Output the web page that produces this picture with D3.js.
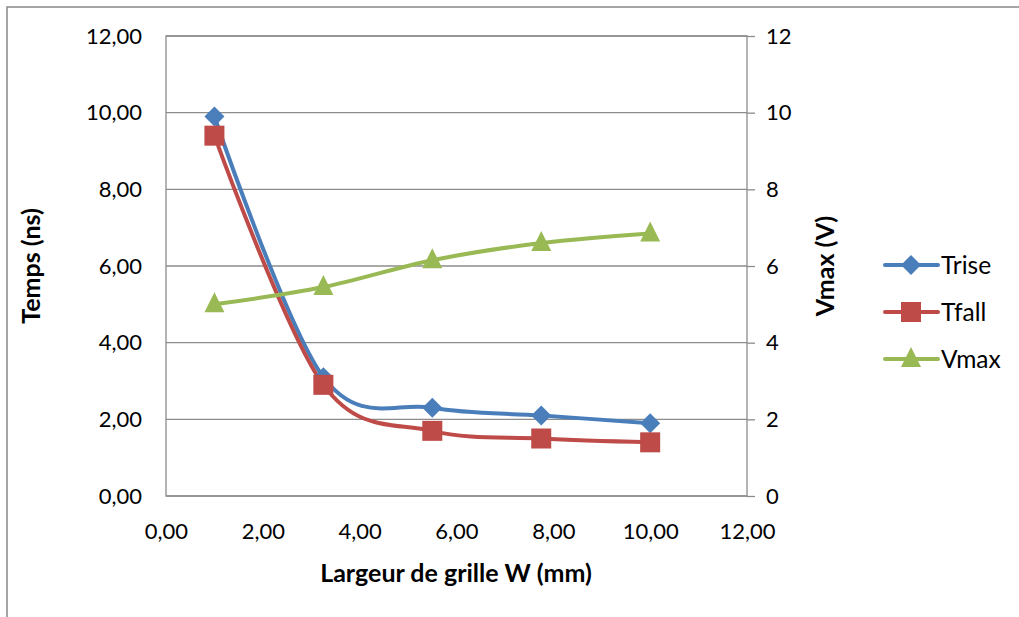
<!DOCTYPE html>
<html><head><meta charset="utf-8">
<script src="https://cdn.jsdelivr.net/npm/d3@7"></script>
<style>body{margin:0;background:#fff}svg{display:block}text{font-family:Lato,"Open Sans",sans-serif}</style>
</head><body>
<svg id="c" width="1019" height="617"></svg>
<script>
const widths = [1.0, 3.25, 5.5, 7.75, 10.0];
const trise = [9.9, 3.1, 2.3, 2.1, 1.9];
const tfall = [9.4, 2.9, 1.7, 1.5, 1.4];
const vmax = [5.0, 5.45, 6.15, 6.6, 6.85];
const xTicks = [0, 2, 4, 6, 8, 10, 12];
const yLeftTicks = [0, 2, 4, 6, 8, 10, 12];
const yRightTicks = [0, 2, 4, 6, 8, 10, 12];
const seriesNames = ["Trise", "Tfall", "Vmax"];

const svg = d3.select("#c");
const L = 166, R = 747, T = 36, B = 496;
const fmt = d => d.toFixed(2).replace(".", ",");
const x = d3.scaleLinear().domain([0, 12]).range([L, R]);
const yL = d3.scaleLinear().domain([0, 12]).range([B, T]);
const yR = d3.scaleLinear().domain([0, 12]).range([B, T]);
const grid = "#8c8c8c";
const TICK_FS = 22, TITLE_FS = 25, LEG_FS = 24.5;

// outer frame
svg.append("rect").attr("x", 7).attr("y", 7).attr("width", 1030).attr("height", 640)
  .attr("fill", "none").attr("stroke", "#888").attr("stroke-width", 1.5);

// gridlines
svg.append("g").selectAll("line").data(yLeftTicks).join("line")
  .attr("x1", L).attr("x2", R).attr("y1", d => yL(d)).attr("y2", d => yL(d))
  .attr("stroke", grid).attr("stroke-width", 1.3);
// plot box
svg.append("rect").attr("x", L).attr("y", T).attr("width", R - L).attr("height", B - T)
  .attr("fill", "none").attr("stroke", grid).attr("stroke-width", 1.3);

// left axis
const gl = svg.append("g").attr("transform", `translate(${L},0)`)
  .call(d3.axisLeft(yL).tickValues(yLeftTicks).tickFormat(fmt).tickSize(0).tickPadding(24));
gl.select(".domain").remove();
gl.selectAll("text").attr("font-size", TICK_FS).attr("fill", "#000").attr("font-family", "Lato");

// right axis
const gr = svg.append("g").attr("transform", `translate(${R},0)`)
  .call(d3.axisRight(yR).tickValues(yRightTicks).tickFormat(d3.format("d")).tickSize(8).tickPadding(11));
gr.select(".domain").remove();
gr.selectAll("line").attr("stroke", grid).attr("stroke-width", 1.3);
gr.selectAll("text").attr("font-size", TICK_FS).attr("fill", "#000").attr("font-family", "Lato");

// bottom axis
const gb = svg.append("g").attr("transform", `translate(0,${B})`)
  .call(d3.axisBottom(x).tickValues(xTicks).tickFormat(fmt).tickSize(0).tickPadding(27));
gb.select(".domain").remove();
gb.selectAll("text").attr("font-size", TICK_FS).attr("fill", "#000").attr("font-family", "Lato");

// titles
svg.append("text").attr("x", 456).attr("y", 582).attr("text-anchor", "middle")
  .attr("font-size", TITLE_FS).attr("font-weight", "bold").text("Largeur de grille W (mm)");
svg.append("text").attr("transform", `translate(40,${(T + B) / 2}) rotate(-90)`)
  .attr("text-anchor", "middle").attr("font-size", TITLE_FS).attr("font-weight", "bold").text("Temps (ns)");
svg.append("text").attr("transform", `translate(834,${(T + B) / 2}) rotate(-90)`)
  .attr("text-anchor", "middle").attr("font-size", TITLE_FS).attr("font-weight", "bold").text("Vmax (V)");

const colors = ["#4a7ebb", "#be4b48", "#98b954"];
function marker(g, type, cx, cy, color) {
  if (type === 0) {
    g.append("path").attr("d", `M${cx},${cy - 10}L${cx + 10},${cy}L${cx},${cy + 10}L${cx - 10},${cy}Z`).attr("fill", color);
  } else if (type === 1) {
    g.append("rect").attr("x", cx - 10).attr("y", cy - 10).attr("width", 20).attr("height", 20).attr("fill", color);
  } else {
    g.append("path").attr("d", `M${cx},${cy - 12}L${cx + 10},${cy + 8}L${cx - 10},${cy + 8}Z`).attr("fill", color);
  }
}

const data = [
  {vals: trise, y: yL},
  {vals: tfall, y: yL},
  {vals: vmax, y: yR}
];
const line = (ys) => d3.line().x((d, i) => x(widths[i])).y(d => ys(d)).curve(d3.curveCardinal.tension(0));

data.forEach((s, k) => {
  svg.append("path").datum(s.vals).attr("d", line(s.y)).attr("fill", "none")
    .attr("stroke", colors[k]).attr("stroke-width", 4).attr("stroke-linejoin", "round").attr("stroke-linecap", "round");
});
data.forEach((s, k) => {
  const g = svg.append("g");
  s.vals.forEach((v, i) => marker(g, k, x(widths[i]), s.y(v), colors[k]));
});

// legend
const lg = svg.append("g");
seriesNames.forEach((n, k) => {
  const cy = 265 + k * 47;
  lg.append("line").attr("x1", 885).attr("x2", 938).attr("y1", cy).attr("y2", cy)
    .attr("stroke", colors[k]).attr("stroke-width", 4).attr("stroke-linecap", "round");
  marker(lg, k, 911, cy, colors[k]);
  lg.append("text").attr("x", 941).attr("y", cy).attr("dy", "0.35em").attr("font-size", LEG_FS).text(n);
});
</script>
</body></html>
